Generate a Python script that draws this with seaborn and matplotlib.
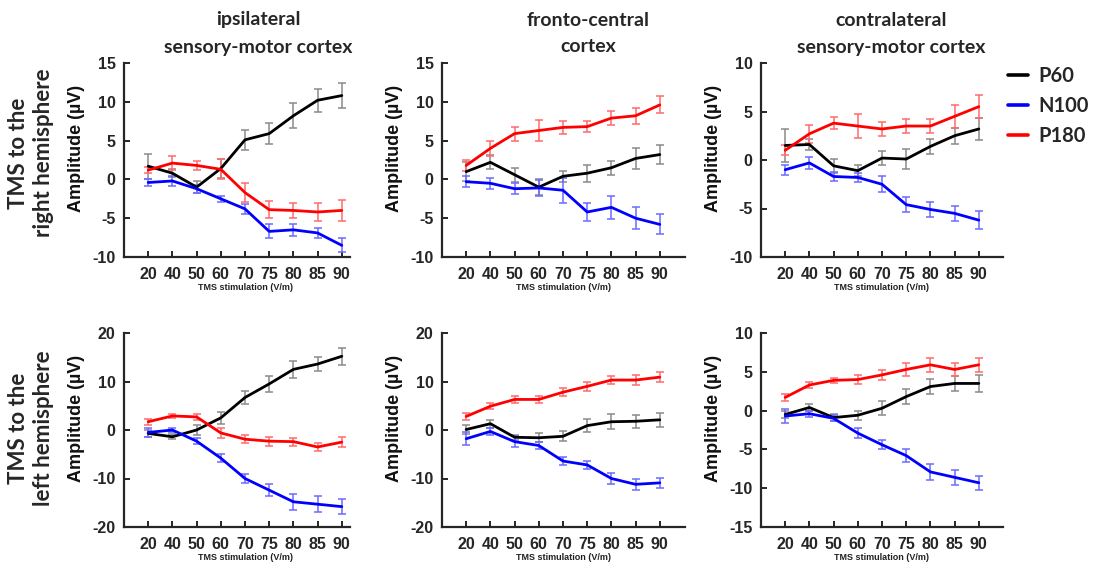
import numpy as np
import pandas as pd
import matplotlib
matplotlib.use("Agg")
import matplotlib.pyplot as plt
from matplotlib.lines import Line2D
import seaborn as sns

# stimulation intensities (V/m) - shown as categories
intensity = ["20", "40", "50", "60", "70", "75", "80", "85", "90"]
components = ["P60", "N100", "P180"]
row_names = ["TMS to the\nright hemisphere", "TMS to the\nleft hemisphere"]
col_titles = ["ipsilateral\nsensory-motor cortex", "fronto-central\ncortex",
              "contralateral\nsensory-motor cortex"]

# ---- TMS to the right hemisphere ----
# ipsilateral sensory-motor cortex
r_ipsi_p60 = [1.7, 0.8, -1.0, 1.4, 5.1, 5.9, 8.2, 10.2, 10.8]
r_ipsi_p60_err = [1.6, 0.5, 0.8, 1.2, 1.3, 1.4, 1.6, 1.5, 1.6]
r_ipsi_n100 = [-0.4, -0.2, -1.2, -2.5, -3.8, -6.7, -6.5, -6.9, -8.5]
r_ipsi_n100_err = [0.5, 0.6, 0.5, 0.4, 0.6, 0.9, 0.8, 0.7, 0.9]
r_ipsi_p180 = [1.2, 2.1, 1.8, 1.3, -1.7, -3.9, -4.0, -4.2, -4.0]
r_ipsi_p180_err = [0.4, 0.9, 0.6, 1.3, 1.2, 1.1, 1.0, 1.2, 1.3]
# fronto-central cortex
r_fc_p60 = [1.0, 2.2, 0.6, -1.0, 0.4, 0.8, 1.5, 2.7, 3.2]
r_fc_p60_err = [1.2, 0.9, 0.9, 1.0, 0.7, 1.1, 0.9, 1.3, 1.2]
r_fc_n100 = [-0.3, -0.5, -1.2, -1.1, -1.4, -4.2, -3.6, -5.0, -5.8]
r_fc_n100_err = [0.7, 0.7, 0.7, 1.0, 1.6, 1.2, 1.5, 1.4, 1.3]
r_fc_p180 = [1.8, 4.0, 5.9, 6.3, 6.7, 6.8, 7.9, 8.2, 9.6]
r_fc_p180_err = [0.7, 1.0, 0.9, 1.4, 0.8, 0.7, 0.9, 1.0, 1.1]
# contralateral sensory-motor cortex
r_contra_p60 = [1.5, 1.6, -0.6, -1.1, 0.2, 0.1, 1.4, 2.5, 3.2]
r_contra_p60_err = [1.7, 0.6, 0.7, 0.6, 0.7, 1.0, 0.8, 0.8, 1.1]
r_contra_n100 = [-1.0, -0.3, -1.7, -1.8, -2.5, -4.6, -5.1, -5.5, -6.2]
r_contra_n100_err = [0.5, 0.6, 0.5, 0.5, 0.8, 0.8, 0.8, 0.8, 0.9]
r_contra_p180 = [1.0, 2.7, 3.8, 3.5, 3.2, 3.5, 3.5, 4.5, 5.5]
r_contra_p180_err = [0.5, 0.9, 0.6, 1.2, 0.7, 0.7, 0.7, 1.2, 1.2]

# ---- TMS to the left hemisphere ----
l_ipsi_p60 = [-0.7, -1.4, 0.0, 2.5, 6.7, 9.5, 12.5, 13.6, 15.2]
l_ipsi_p60_err = [0.7, 0.5, 1.0, 1.2, 1.4, 1.7, 1.8, 1.5, 1.7]
l_ipsi_n100 = [-0.5, 0.0, -2.3, -5.8, -10.0, -12.4, -14.8, -15.3, -15.8]
l_ipsi_n100_err = [1.0, 0.4, 0.6, 0.9, 1.0, 1.3, 1.6, 1.6, 1.6]
l_ipsi_p180 = [1.7, 2.9, 2.7, -0.6, -1.9, -2.3, -2.4, -3.5, -2.5]
l_ipsi_p180_err = [0.6, 0.4, 0.6, 1.0, 0.8, 0.9, 0.8, 0.8, 1.0]

l_fc_p60 = [0.1, 1.3, -1.5, -1.6, -1.3, 0.9, 1.7, 1.8, 2.1]
l_fc_p60_err = [1.0, 0.8, 0.5, 0.9, 1.0, 1.4, 1.5, 1.3, 1.5]
l_fc_n100 = [-1.8, -0.3, -2.4, -3.2, -6.4, -7.2, -10.0, -11.2, -10.9]
l_fc_n100_err = [1.3, 0.8, 1.2, 0.8, 0.8, 0.8, 1.1, 1.1, 1.1]
l_fc_p180 = [2.8, 4.9, 6.3, 6.3, 7.8, 9.0, 10.3, 10.3, 10.9]
l_fc_p180_err = [0.8, 0.6, 0.8, 0.7, 0.8, 0.9, 0.9, 1.0, 1.0]

l_contra_p60 = [-0.5, 0.4, -0.9, -0.6, 0.3, 1.8, 3.1, 3.5, 3.5]
l_contra_p60_err = [0.5, 0.4, 0.4, 0.6, 0.9, 1.0, 1.0, 1.0, 1.1]
l_contra_n100 = [-0.7, -0.4, -1.0, -2.9, -4.4, -5.8, -7.9, -8.6, -9.3]
l_contra_n100_err = [0.9, 0.4, 0.4, 0.6, 0.6, 0.8, 1.0, 1.0, 0.9]
l_contra_p180 = [1.7, 3.3, 3.9, 4.0, 4.6, 5.3, 5.9, 5.3, 5.9]
l_contra_p180_err = [0.5, 0.4, 0.3, 0.6, 0.6, 0.8, 0.9, 0.8, 0.9]

ylims = [[(-10, 15), (-10, 15), (-10, 10)],
         [(-20, 20), (-20, 20), (-15, 10)]]
yticks = [[range(-10, 16, 5), range(-10, 16, 5), range(-10, 11, 5)],
          [range(-20, 21, 10), range(-20, 21, 10), range(-15, 11, 5)]]

panels = [
    [(r_ipsi_p60, r_ipsi_p60_err, r_ipsi_n100, r_ipsi_n100_err, r_ipsi_p180, r_ipsi_p180_err),
     (r_fc_p60, r_fc_p60_err, r_fc_n100, r_fc_n100_err, r_fc_p180, r_fc_p180_err),
     (r_contra_p60, r_contra_p60_err, r_contra_n100, r_contra_n100_err, r_contra_p180, r_contra_p180_err)],
    [(l_ipsi_p60, l_ipsi_p60_err, l_ipsi_n100, l_ipsi_n100_err, l_ipsi_p180, l_ipsi_p180_err),
     (l_fc_p60, l_fc_p60_err, l_fc_n100, l_fc_n100_err, l_fc_p180, l_fc_p180_err),
     (l_contra_p60, l_contra_p60_err, l_contra_n100, l_contra_n100_err, l_contra_p180, l_contra_p180_err)],
]

line_colors = {"P60": "#000000", "N100": "#0000ff", "P180": "#ff0000"}
err_colors = {"P60": "#8a8a8a", "N100": "#6b6bff", "P180": "#ff6b6b"}

sns.set_style("ticks")
plt.rcParams["font.family"] = ["Liberation Sans", "DejaVu Sans"]
plt.rcParams["font.weight"] = "bold"
plt.rcParams["axes.unicode_minus"] = False

W, H = 1095, 564
fig = plt.figure(figsize=(W / 100, H / 100), dpi=100)

col_left = [124, 442, 761]
col_xmax = [8.35, 9.05, 9.0]
row_top = [63, 333]
unit = 24.2
ax_h = 194
spine_col = "#262626"
title_font = ["Lato", "DejaVu Sans"]

for r in range(2):
    for c in range(3):
        width_px = (col_xmax[c] + 1.0) * unit
        ax = fig.add_axes([col_left[c] / W, 1 - (row_top[r] + ax_h) / H,
                           width_px / W, ax_h / H])
        vals = panels[r][c]
        rows = []
        for k, comp in enumerate(components):
            for i, lab in enumerate(intensity):
                rows.append({"pos": i, "amp": vals[2 * k][i], "err": vals[2 * k + 1][i],
                             "component": comp})
        df = pd.DataFrame(rows)

        for comp in components:
            d = df[df.component == comp]
            ax.errorbar(d["pos"], d["amp"], yerr=d["err"], fmt="none",
                        ecolor=err_colors[comp], elinewidth=1.1, capsize=2.8,
                        capthick=1.1, zorder=2)
        sns.lineplot(data=df, x="pos", y="amp", hue="component",
                     hue_order=components, palette=line_colors, linewidth=2.0,
                     legend=False, ax=ax, zorder=3, errorbar=None)

        ax.set_xlim(-1.0, col_xmax[c])
        ax.set_ylim(*ylims[r][c])
        ax.set_yticks(list(yticks[r][c]))
        ax.set_xticks(range(len(intensity)))
        ax.set_xticklabels(intensity)
        sns.despine(ax=ax)
        for s in ("left", "bottom"):
            ax.spines[s].set_linewidth(1.6)
            ax.spines[s].set_color(spine_col)
        ax.tick_params(direction="in", length=4, width=1.4, color=spine_col,
                       labelsize=11.5, labelcolor=spine_col)
        ax.tick_params(axis="y", pad=6)
        ax.tick_params(axis="x", pad=7)
        for t in ax.get_xticklabels() + ax.get_yticklabels():
            t.set_fontweight("bold")

        ax.set_ylabel("Amplitude (µV)", fontsize=13, fontweight="bold",
                      color="#111111")
        ax.yaxis.set_label_coords(-39 / width_px, 0.56)
        ax.set_xlabel("TMS stimulation (V/m)", fontsize=6.5, fontweight="bold",
                      color="#222222")
        ax.xaxis.set_label_coords((unit * 5.0) / width_px, -0.135)

# column titles
title_x = [258, 588, 891]
for c, t in enumerate(col_titles):
    l1, l2 = t.split("\n")
    fig.text(title_x[c] / W, 1 - 20 / H, l1, ha="center", va="center",
             fontsize=14, fontweight="bold", family=title_font)
    fig.text(title_x[c] / W, 1 - 47 / H, l2, ha="center", va="center",
             fontsize=14, fontweight="bold", family=title_font)

# row labels
row_y = [153, 428]
for r, t in enumerate(row_names):
    l1, l2 = t.split("\n")
    fig.text(19 / W, 1 - row_y[r] / H, l1, rotation=90, ha="center", va="center",
             fontsize=16, fontweight="bold", family=title_font)
    fig.text(44 / W, 1 - row_y[r] / H, l2, rotation=90, ha="center", va="center",
             fontsize=16, fontweight="bold", family=title_font)

# legend
handles = [Line2D([], [], color=line_colors[c], linewidth=2.6) for c in components]
fig.legend(handles, components, loc="upper left",
           bbox_to_anchor=(1008 / W, 1 - 66 / H), frameon=False,
           borderpad=0, borderaxespad=0,
           handlelength=1.0, handletextpad=0.5, labelspacing=0.5,
           prop={"family": title_font, "weight": "bold", "size": 14.5})

fig.savefig("out.png", dpi=100)
